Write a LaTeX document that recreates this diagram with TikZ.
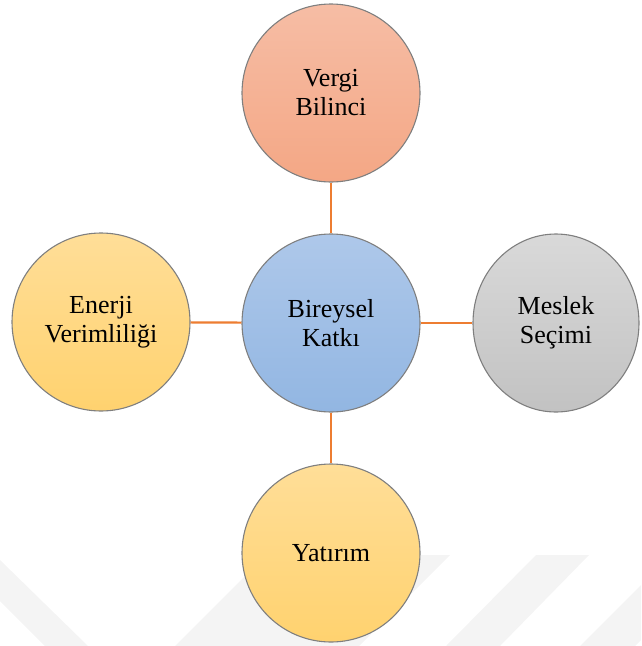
\documentclass[tikz,border=0pt]{standalone}
\usepackage{fontspec}
\newfontfamily\tnr{LiberationSerif-Regular.ttf}
\usetikzlibrary{shapes.geometric}
\definecolor{salmonT}{HTML}{F6BDA5}
\definecolor{salmonB}{HTML}{F4A785}
\definecolor{blueT}{HTML}{AEC8EA}
\definecolor{blueB}{HTML}{92B6E2}
\definecolor{yelT}{HTML}{FFDE98}
\definecolor{yelB}{HTML}{FFD26F}
\definecolor{grayT}{HTML}{D9D9D9}
\definecolor{grayB}{HTML}{C2C2C2}
\definecolor{linkcol}{HTML}{ED7D31}
\definecolor{rim}{HTML}{7F7F7F}
\definecolor{wmark}{HTML}{F4F4F4}
\begin{document}
\begin{tikzpicture}[x=1pt,y=-1pt,
  bubble/.style={ellipse, draw=rim, line width=1.1pt, inner sep=0pt,
    minimum width=178pt, minimum height=178pt, align=center,
    font=\tnr\fontsize{26}{29}\selectfont},
  link/.style={draw=linkcol, line width=2.2pt},
  wm/.style={fill=wmark, draw=none}]
\useasboundingbox (0,0) rectangle (641,646);
% faint watermark bands
\fill[wm] (0,560) -- (88,646) -- (45,646) -- (0,601) -- cycle;
\fill[wm] (175,646) -- (266,555) -- (450,555) -- (359,646) -- cycle;
\fill[wm] (446,646) -- (536,555) -- (589,555) -- (500,646) -- cycle;
\fill[wm] (580,646) -- (641,585) -- (641,640) -- (635,646) -- cycle;
% circles
\node[bubble, top color=salmonT, bottom color=salmonB] (vergi) at (331,93) {Vergi\\Bilinci};
\node[bubble, top color=blueT, bottom color=blueB] (bireysel) at (331,323) {Bireysel\\Katkı};
\node[bubble, top color=yelT, bottom color=yelB] (enerji) at (101,322) {Enerji\\Verimliliği};
\node[bubble, minimum width=166pt, top color=grayT, bottom color=grayB] (meslek) at (556,323) {Meslek\\Seçimi};
\node[bubble, top color=yelT, bottom color=yelB] (yatirim) at (331,553) {Yatırım};
% connectors
\draw[link] (vergi) -- (bireysel);
\draw[link] (enerji) -- (bireysel);
\draw[link] (bireysel) -- (meslek);
\draw[link] (bireysel) -- (yatirim);
\end{tikzpicture}
\end{document}
